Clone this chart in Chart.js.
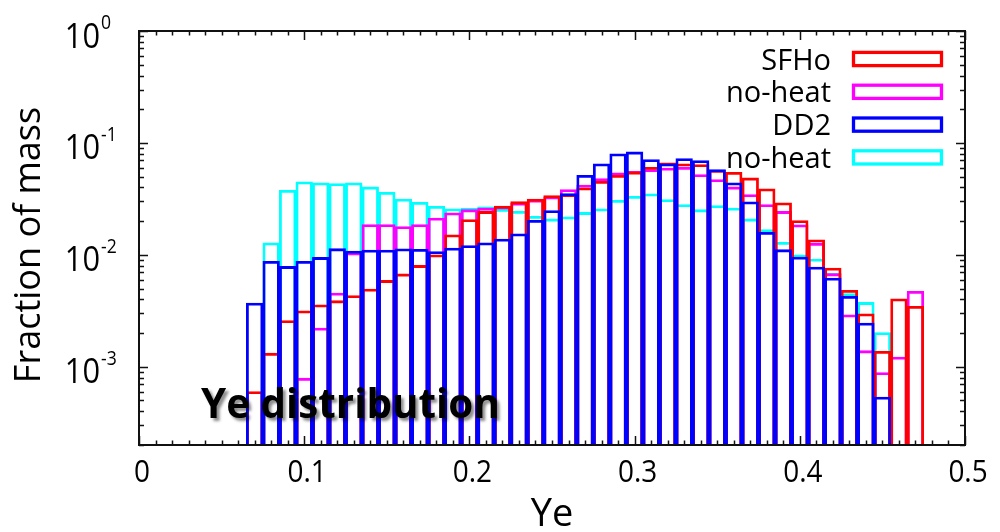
<!DOCTYPE html>
<html>
<head>
<meta charset="utf-8">
<script src="https://cdn.jsdelivr.net/npm/chart.js@4.4.1/dist/chart.umd.min.js"></script>
<style>
  html, body { margin: 0; padding: 0; background: #fff; }
  #wrap { position: relative; width: 1000px; height: 532px; overflow: hidden; }
  #chart { display: block; }
  #note {
    position: absolute; left: 201px; top: 381px;
    font: bold 42px 'Open Sans', sans-serif; line-height: 1;
    color: #000; white-space: nowrap;
    transform: scaleX(0.96); transform-origin: left top;
    text-shadow: 3px 3px 3px rgba(0,0,0,0.45);
  }
</style>
</head>
<body>
<div id="wrap">
  <canvas id="chart" width="1000" height="532"></canvas>
  <div id="note">Ye distribution</div>
</div>
<script>
// Electron-fraction bins (centres, width 0.01)
const binCenters = [0.07, 0.08, 0.09, 0.10, 0.11, 0.12, 0.13, 0.14, 0.15, 0.16,
                    0.17, 0.18, 0.19, 0.20, 0.21, 0.22, 0.23, 0.24, 0.25, 0.26,
                    0.27, 0.28, 0.29, 0.30, 0.31, 0.32, 0.33, 0.34, 0.35, 0.36,
                    0.37, 0.38, 0.39, 0.40, 0.41, 0.42, 0.43, 0.44, 0.45, 0.46, 0.47];

// Mass fraction per bin
const sfho = [0.00060, 0.00132, 0.00258, 0.00316, 0.00358, 0.00389, 0.00433, 0.00494, 0.00590, 0.00674,
              0.00803, 0.0100, 0.0151, 0.0206, 0.0244, 0.0272, 0.0298, 0.0315, 0.0338, 0.0345,
              0.0396, 0.0454, 0.0513, 0.0550, 0.0605, 0.0662, 0.0649, 0.0640, 0.0569, 0.0546,
              0.0486, 0.0388, 0.0291, 0.0202, 0.0136, 0.00762, 0.00481, 0.00297, 0.00137, 0.00405, 0.00346];
const sfhoNoHeat = [null, null, null, 0.00079, 0.00221, 0.00455, 0.0104, 0.0186, 0.0186, 0.0179,
                    0.0186, 0.0213, 0.0237, 0.0253, 0.0262, 0.0268, 0.0290, 0.0308, 0.0330, 0.0382,
                    0.0420, 0.0480, 0.0540, 0.0558, 0.0577, 0.0596, 0.0605, 0.0521, 0.0470, 0.0404,
                    0.0345, 0.0281, 0.0244, 0.0185, 0.0127, 0.00678, 0.00291, 0.00139, 0.000888, 0.00122, 0.00471];
const dd2 = [0.00371, 0.00873, 0.00787, 0.00873, 0.00947, 0.01134, 0.0108, 0.0110, 0.0110, 0.0113,
             0.0112, 0.0107, 0.0115, 0.0121, 0.0128, 0.0138, 0.0154, 0.0203, 0.0248, 0.0352,
             0.0513, 0.0649, 0.0797, 0.0830, 0.0709, 0.0650, 0.0724, 0.0695, 0.0577, 0.0439,
             0.0297, 0.0159, 0.0111, 0.00955, 0.00778, 0.00620, 0.00425, 0.00245, 0.000535, null, null];
const dd2NoHeat = [null, 0.0128, 0.0377, 0.0448, 0.0439, 0.0433, 0.0439, 0.0404, 0.0362, 0.0315,
                   0.0294, 0.0271, 0.0257, 0.0262, 0.0268, 0.0255, 0.0245, 0.0221, 0.0209, 0.0218,
                   0.0239, 0.0257, 0.0307, 0.0333, 0.0350, 0.0311, 0.0281, 0.0253, 0.0275, 0.0262,
                   0.0209, 0.0168, 0.0129, 0.0100, 0.00916, 0.00687, 0.00449, 0.00375, 0.00202, null, null];

const seriesLabels = ['SFHo', 'no-heat', 'DD2', 'no-heat'];
const seriesColors = ['#ff0000', '#ff00ff', '#0000ff', '#00ffff'];
const drawOrder = [1, 2, 0, 3];   // lower = drawn later (on top)

const xTickValues = [0, 0.1, 0.2, 0.3, 0.4, 0.5];
const xTickLabels = ['0', '0.1', '0.2', '0.3', '0.4', '0.5'];
const yTickExponents = [0, -1, -2, -3];
const xTitle = 'Ye';
const yTitle = 'Fraction of mass';

const Y_MIN = 2e-4, Y_MAX = 1;
const BAR_BASE = 1.92e-4;

function toPoints(values) {
  const pts = [];
  values.forEach((v, i) => { if (v !== null) pts.push({ x: binCenters[i], y: v }); });
  return pts;
}

const allSeries = [sfho, sfhoNoHeat, dd2, dd2NoHeat];
const datasets = allSeries.map((vals, i) => ({
  label: seriesLabels[i],
  data: toPoints(vals),
  borderColor: seriesColors[i],
  backgroundColor: 'rgba(0,0,0,0)',
  borderWidth: 2,
  borderSkipped: false,
  inflateAmount: 0.4,
  grouped: false,
  barPercentage: 1,
  categoryPercentage: 1,
  base: BAR_BASE,
  order: drawOrder[i]
}));

const TICK_FONT = "'Open Sans', sans-serif";

// Frame with inward ticks on all four sides, tick labels and the y title
const frameAndTicks = {
  id: 'frameAndTicks',
  afterDatasetsDraw(chart) {
    const { ctx, chartArea: a, scales: { x, y } } = chart;
    ctx.save();
    ctx.strokeStyle = '#111';
    ctx.lineWidth = 1.5;
    ctx.beginPath();
    // x ticks every 0.01, majors every 0.1
    for (let k = 0; k <= 50; k++) {
      const px = Math.round(x.getPixelForValue(k / 100)) + 0.5;
      const len = (k % 10 === 0) ? 9 : 4.5;
      ctx.moveTo(px, a.bottom); ctx.lineTo(px, a.bottom - len);
      ctx.moveTo(px, a.top); ctx.lineTo(px, a.top + len);
    }
    // y ticks: decades and 2..9 sub-decades
    for (let e = -4; e <= 0; e++) {
      for (let m = 1; m <= 9; m++) {
        const v = m * Math.pow(10, e);
        if (v < Y_MIN * 0.999 || v > Y_MAX * 1.001) continue;
        const py = Math.round(y.getPixelForValue(v)) + 0.5;
        const len = (m === 1) ? 9 : 5;
        ctx.moveTo(a.left, py); ctx.lineTo(a.left + len, py);
        ctx.moveTo(a.right, py); ctx.lineTo(a.right - len, py);
      }
      if (e === 0) break;
    }
    ctx.stroke();
    ctx.lineWidth = 2;
    ctx.strokeRect(a.left, a.top, a.right - a.left, a.bottom - a.top);

    // x tick labels
    ctx.fillStyle = '#000';
    ctx.font = '31px ' + TICK_FONT;
    ctx.textAlign = 'center';
    ctx.textBaseline = 'alphabetic';
    xTickValues.forEach((v, i) => {
      const px = x.getPixelForValue(v) + 3;
      ctx.save();
      ctx.translate(px, 482);
      ctx.scale(0.9, 1);
      ctx.fillText(xTickLabels[i], 0, 0);
      ctx.restore();
    });

    // y tick labels: 10 with superscript exponent
    yTickExponents.forEach(e => {
      const py = y.getPixelForValue(Math.pow(10, e));
      ctx.save();
      ctx.translate(100, py + 16.5);
      ctx.scale(0.88, 1);
      ctx.font = '35px ' + TICK_FONT;
      ctx.textAlign = 'right';
      ctx.fillText('10', 0, 0);
      ctx.restore();
      ctx.save();
      ctx.translate(101, py - 2);
      ctx.scale(0.88, 1);
      ctx.font = '20px ' + TICK_FONT;
      ctx.textAlign = 'left';
      ctx.fillText(String(e), 0, 0);
      ctx.restore();
    });

    // y axis title, rotated
    ctx.save();
    ctx.translate(30, 245);
    ctx.rotate(-Math.PI / 2);
    ctx.font = '36px ' + TICK_FONT;
    ctx.textAlign = 'center';
    ctx.textBaseline = 'middle';
    ctx.fillText(yTitle, 0, 0);
    ctx.restore();
    ctx.restore();
  }
};

// Legend inside the plot: label right-aligned, outlined box to its right
const boxLegend = {
  id: 'boxLegend',
  afterDraw(chart) {
    const { ctx } = chart;
    ctx.save();
    ctx.font = '29px ' + TICK_FONT;
    ctx.textAlign = 'right';
    ctx.textBaseline = 'alphabetic';
    chart.data.datasets.forEach((ds, i) => {
      const cy = 59 + i * 32.8;
      ctx.fillStyle = '#000';
      ctx.fillText(ds.label, 831, cy + 10.5);
      ctx.strokeStyle = ds.borderColor;
      ctx.lineWidth = 3.3;
      ctx.strokeRect(853.5, cy - 6.6, 88, 13.2);
    });
    ctx.restore();
  }
};

Chart.defaults.color = '#000';
Chart.defaults.font.family = TICK_FONT;

new Chart(document.getElementById('chart'), {
  type: 'bar',
  data: { datasets },
  options: {
    responsive: false,
    animation: false,
    devicePixelRatio: 1,
    layout: { padding: { left: 0, right: 35, top: 31, bottom: 0 } },
    plugins: { legend: { display: false }, tooltip: { enabled: false } },
    scales: {
      x: {
        type: 'linear', min: 0, max: 0.5, offset: false,
        grid: { display: false, drawTicks: false, offset: false },
        border: { display: false },
        ticks: { display: false },
        title: { display: true, text: xTitle, font: { size: 38, lineHeight: 1 }, padding: { top: 0, bottom: -2 } },
        afterFit(scale) { scale.height = 87; }
      },
      y: {
        type: 'logarithmic', min: Y_MIN, max: Y_MAX,
        grid: { display: false, drawTicks: false },
        border: { display: false },
        ticks: { display: false },
        title: { display: false },
        afterFit(scale) { scale.width = 139; }
      }
    }
  },
  plugins: [frameAndTicks, boxLegend]
});
</script>
</body>
</html>
